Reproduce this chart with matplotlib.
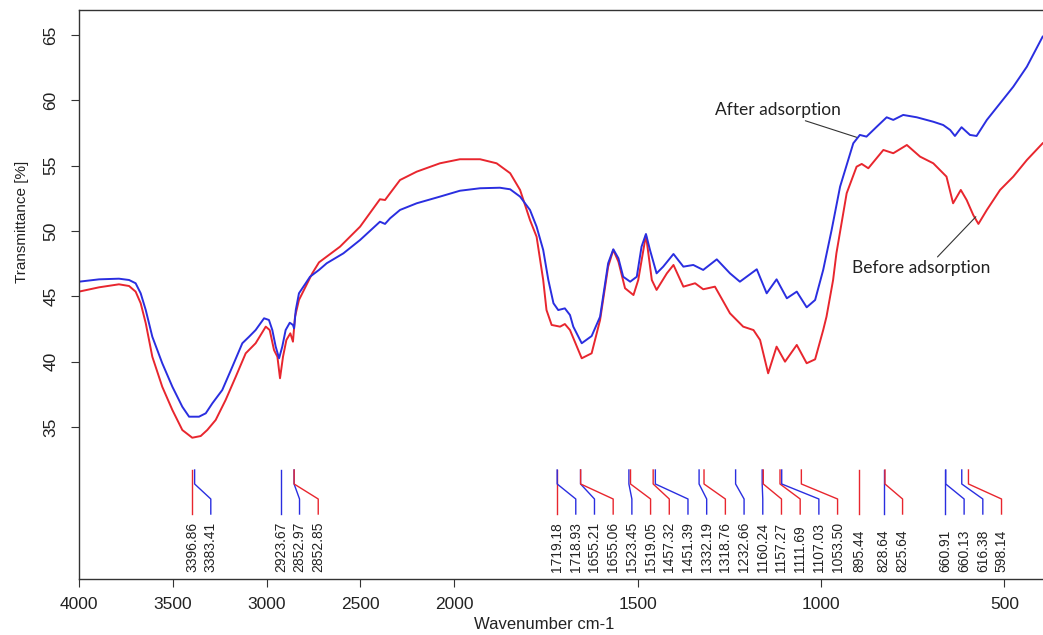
import numpy as np
import matplotlib
matplotlib.use('Agg')
from matplotlib import pyplot as plt
import matplotlib.transforms as mtransforms

# spectra (wavenumber cm-1, transmittance %)
wn_after = [4000, 3893, 3787, 3733, 3698, 3671, 3644, 3609, 3556, 3502, 3449, 3413, 3360, 3324, 3289,
            3236, 3182, 3129, 3093, 3058, 3013, 2987, 2969, 2951, 2933, 2916, 2898, 2876, 2859, 2853,
            2844, 2827, 2791, 2768, 2720, 2679, 2590, 2501, 2395, 2368, 2341, 2288, 2199, 2075, 1984,
            1929, 1875, 1847, 1820, 1793, 1775, 1757, 1743, 1729, 1716, 1698, 1684, 1675, 1652, 1625,
            1602, 1580, 1566, 1552, 1539, 1520, 1502, 1489, 1477, 1466, 1448, 1430, 1402, 1375, 1348,
            1321, 1284, 1248, 1221, 1175, 1148, 1121, 1093, 1066, 1039, 1016, 994, 971, 948, 912,
            894, 876, 848, 821, 803, 776, 739, 694, 667, 648, 635, 617, 594, 576, 548, 512, 476, 439, 396]
t_after = [46.12, 46.30, 46.35, 46.25, 46.0, 45.23, 43.95, 41.91, 39.88, 38.08, 36.55, 35.79, 35.79, 36.05, 36.81,
           37.83, 39.62, 41.41, 41.91, 42.42, 43.32, 43.19, 42.42, 41.15, 40.26, 41.15, 42.42, 42.98, 42.81, 42.55,
           43.95, 45.23, 46.0, 46.50, 47.02, 47.53, 48.29, 49.31, 50.71, 50.54, 50.97, 51.61, 52.12, 52.63, 53.08,
           53.27, 53.31, 53.19, 52.63, 51.61, 50.33, 48.55, 46.25, 44.47, 43.95, 44.08, 43.57, 42.68, 41.41, 41.96,
           43.44, 47.53, 48.60, 47.91, 46.50, 46.12, 46.50, 48.80, 49.77, 48.55, 46.76, 47.27, 48.24, 47.27, 47.40,
           47.02, 47.83, 46.76, 46.12, 47.07, 45.23, 46.30, 44.85, 45.36, 44.16, 44.72, 47.02, 50.08, 53.39, 56.71,
           57.35, 57.22, 57.98, 58.70, 58.50, 58.88, 58.70, 58.36, 58.11, 57.73, 57.27, 57.94, 57.35, 57.27, 58.50,
           59.77, 61.04, 62.57, 64.87]

wn_before = [4000, 3893, 3787, 3733, 3698, 3671, 3644, 3609, 3556, 3502, 3449, 3396, 3351, 3316, 3271,
             3218, 3164, 3111, 3058, 3004, 2983, 2960, 2942, 2928, 2912, 2894, 2873, 2859, 2848, 2827,
             2756, 2720, 2608, 2501, 2395, 2368, 2341, 2288, 2199, 2075, 1984, 1929, 1884, 1847, 1820,
             1793, 1775, 1757, 1748, 1734, 1711, 1698, 1684, 1652, 1625, 1602, 1580, 1566, 1552, 1534,
             1511, 1498, 1477, 1461, 1448, 1420, 1402, 1375, 1343, 1321, 1289, 1248, 1212, 1184, 1166,
             1144, 1121, 1098, 1066, 1039, 1016, 994, 985, 967, 958, 930, 903, 889, 871, 830,
             803, 766, 730, 694, 658, 640, 619, 603, 585, 571, 548, 512, 476, 439, 396]
t_before = [45.36, 45.69, 45.92, 45.79, 45.36, 44.47, 42.94, 40.38, 38.08, 36.30, 34.77, 34.18, 34.31, 34.77, 35.54,
            37.07, 38.85, 40.64, 41.41, 42.68, 42.42, 40.89, 40.38, 38.73, 40.38, 41.66, 42.17, 41.53, 43.44, 44.72,
            46.76, 47.60, 48.80, 50.33, 52.43, 52.37, 52.89, 53.90, 54.54, 55.18, 55.49, 55.49, 55.18, 54.42, 53.14,
            50.84, 49.56, 46.25, 43.95, 42.81, 42.68, 42.88, 42.42, 40.26, 40.64, 43.19, 47.27, 48.55, 47.65, 45.62,
            45.10, 46.25, 49.69, 46.25, 45.49, 46.76, 47.40, 45.74, 46.0, 45.54, 45.74, 43.70, 42.68, 42.42, 41.66,
            39.11, 41.15, 40.0, 41.28, 39.88, 40.18, 42.42, 43.44, 46.25, 48.29, 52.89, 54.92, 55.13, 54.80, 56.20,
            55.95, 56.58, 55.69, 55.18, 54.16, 52.12, 53.14, 52.37, 51.22, 50.54, 51.61, 53.14, 54.16, 55.43, 56.71]

# picked peaks
peaks_before = [3396.86, 2852.85, 1719.18, 1655.06, 1519.05, 1457.32, 1318.76, 1157.27,
                1111.69, 1053.50, 895.44, 825.64, 598.14]
peaks_after = [3383.41, 2923.67, 2852.97, 1718.93, 1655.21, 1523.45, 1451.39, 1332.19,
               1232.66, 1160.24, 1107.03, 828.64, 660.91, 660.13, 616.38]

x_ticks = [4000, 3500, 3000, 2500, 2000, 1500, 1000, 500]
y_ticks = [35, 40, 45, 50, 55, 60, 65]

red = '#e8262e'
blue = '#2a2ee0'

# scale compressed above 2000 cm-1
k = 1.957
def fwd(w):
    w = np.asarray(w, dtype=float)
    return np.where(w > 2000, 2000 + (w - 2000) / k, w)
def inv(t):
    t = np.asarray(t, dtype=float)
    return np.where(t > 2000, 2000 + (t - 2000) * k, t)

plt.rcParams['font.family'] = ['Liberation Sans', 'DejaVu Sans']
fig = plt.figure(figsize=(10.43, 6.35), dpi=100)
ax = fig.add_axes([79 / 1043, 56 / 635, 964 / 1043, 569 / 635])
ax.set_xscale('function', functions=(fwd, inv))
ax.set_xlim(4000, 395)
ax.set_ylim(23.37, 66.91)

ax.plot(wn_before, t_before, color=red, lw=1.4)
ax.plot(wn_after, t_after, color=blue, lw=1.4)

ax.set_xticks(x_ticks)
ax.set_xticklabels([str(v) for v in x_ticks])
ax.set_yticks(y_ticks)
ax.set_yticklabels([str(v) for v in y_ticks], rotation=90, va='center')
ax.tick_params(axis='both', labelsize=12.5, length=6, color='#333333', labelcolor='#222222')
ax.tick_params(axis='x', pad=7)
ax.tick_params(axis='y', pad=9)
ax.spines['right'].set_visible(False)
for s in ['left', 'bottom', 'top']:
    ax.spines[s].set_color('#333333')
    ax.spines[s].set_linewidth(1.0)

ax.set_xlabel('Wavenumber cm-1', fontsize=12, color='#222222')
ax.xaxis.set_label_coords(0.483, -0.066)
ax.set_ylabel('Transmittance [%]', fontsize=11, color='#222222')
ax.yaxis.set_label_coords(-0.052, 0.627)

# peak markers with spread labels
peaks = [(w, red) for w in peaks_before] + [(w, blue) for w in peaks_after]
peaks.sort(key=lambda p: -p[0])
trans = mtransforms.blended_transform_factory(ax.transData, ax.transAxes)
gap = 18.7
prev = -1e9
for w, c in peaks:
    px = ax.transData.transform((w, 40))[0]
    lx = max(px, prev + gap)
    prev = lx
    lw_ = ax.transData.inverted().transform((lx, 0))[0]
    ax.plot([w, w, lw_, lw_], [0.1916, 0.167, 0.1406, 0.1142], color=c, lw=1.0, transform=trans)
    ax.text(lw_, 0.0123, '%.2f' % w, rotation=90, ha='center', va='bottom',
            fontsize=10, color='#222222', transform=trans)

ax.annotate('After adsorption', xy=(903, 57.17), xytext=(1289, 59.26),
            fontsize=12.5, family='Lato', color='#222222', va='center', ha='left',
            arrowprops=dict(arrowstyle='-', color='#333333', lw=0.8, shrinkA=0, shrinkB=0,
                            relpos=(0.65, 0.0)))
ax.annotate('Before adsorption', xy=(578, 51.09), xytext=(916, 47.19),
            fontsize=12.5, family='Lato', color='#222222', va='center', ha='left',
            arrowprops=dict(arrowstyle='-', color='#333333', lw=0.8, shrinkA=0, shrinkB=0,
                            relpos=(0.6, 1.0)))

fig.savefig('out.png', dpi=100)
